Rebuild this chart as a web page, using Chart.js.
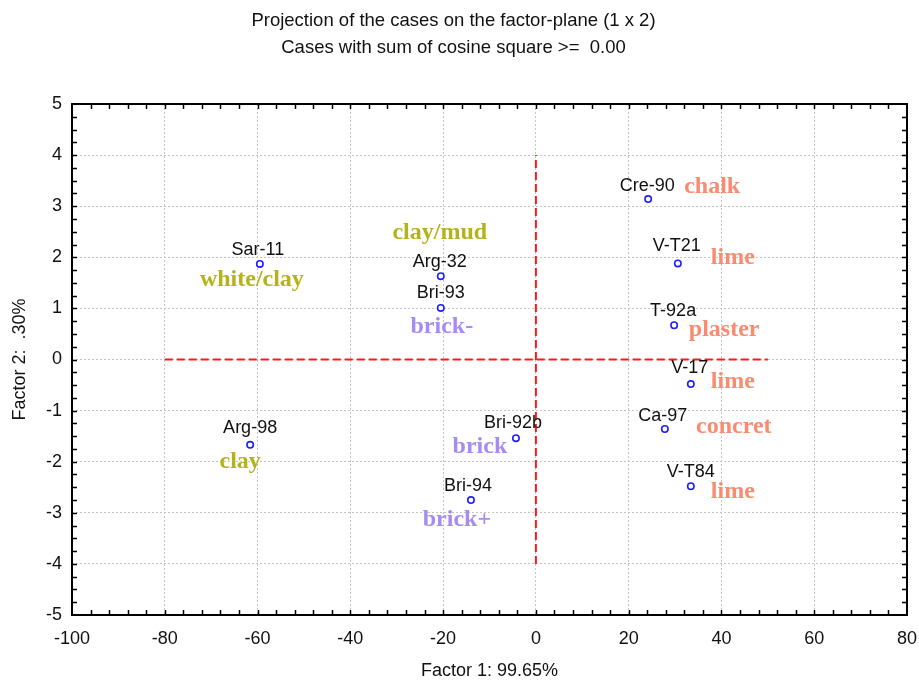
<!DOCTYPE html>
<html><head><meta charset="utf-8">
<script src="https://cdn.jsdelivr.net/npm/chart.js@4.4.1/dist/chart.umd.min.js"></script>
<style>html,body{margin:0;padding:0;background:#fff}</style>
</head><body>
<canvas id="c" width="919" height="682"></canvas>
<script>
// ---- data ----
const caseNames = ['Sar-11','Arg-32','Bri-93','Arg-98','Bri-92b','Bri-94','Cre-90','V-T21','T-92a','V-17','Ca-97','V-T84'];
const factor1 = [-59.5,-20.5,-20.5,-61.6,-4.3,-14.0,24.2,30.6,29.8,33.4,27.8,33.4];
const factor2 = [1.87,1.63,1.01,-1.67,-1.54,-2.75,3.14,1.88,0.67,-0.48,-1.36,-2.48];
const materials = ['white/clay','clay/mud','brick-','clay','brick','brick+','chalk','lime','plaster','lime','concret','lime'];
const materialGroup = ['clay','clay','brick','clay','brick','brick','lime','lime','lime','lime','lime','lime'];
const refLineX = [-80, 50];   // horizontal reference at Factor 2 = 0
const refLineY = [-4, 4];     // vertical reference at Factor 1 = 0
const xRange = [-100, 80];
const yRange = [-5, 5];
const titleLines = ['Projection of the cases on the factor-plane (1 x 2)', 'Cases with sum of cosine square >=  0.00'];
const xTitle = 'Factor 1: 99.65%';
const yTitle = 'Factor 2:  .30%';

// ---- layout / style (not data) ----
const groupColor = {clay:'#b5b21c', brick:'#a68cf2', lime:'#f88b70'};
const nameOffset = [[-2,-14],[-1,-14],[0,-15],[0,-17],[-3,-15],[-3,-14],[-1,-13],[-1,-17],[-1,-14],[-1,-16],[-2,-13],[0,-14]];
const matOffset = [[-8,16],[-1,-43],[1,19],[-10,17],[-36,9],[-14,20],[64,-12],[55,-6],[50,5],[42,-2],[69,-2],[42,6]];

const points = factor1.map((x,i)=>({x, y:factor2[i]}));

const framePlugin = {
  id:'frame',
  afterDatasetsDraw(chart){
    const {ctx, chartArea:a, scales:{x, y}} = chart;
    ctx.save();
    ctx.textAlign='center'; ctx.textBaseline='middle';
    const meta = chart.getDatasetMeta(2);
    meta.data.forEach((pt,i)=>{
      ctx.font = '18px "Liberation Sans", Arial, sans-serif';
      ctx.fillStyle = '#111';
      ctx.fillText(caseNames[i], pt.x + nameOffset[i][0], pt.y + nameOffset[i][1]);
      ctx.font = 'bold 24px "Liberation Serif", "Times New Roman", serif';
      ctx.fillStyle = groupColor[materialGroup[i]];
      ctx.fillText(materials[i], pt.x + matOffset[i][0], pt.y + matOffset[i][1]);
    });
    ctx.strokeStyle='#000'; ctx.lineWidth=2;
    ctx.strokeRect(a.left, a.top, a.right-a.left, a.bottom-a.top);
    ctx.lineWidth=1.5;
    ctx.beginPath();
    for(let v=xRange[0]+4; v<xRange[1]; v+=4){
      const px = Math.round(x.getPixelForValue(v))+0.5;
      ctx.moveTo(px,a.bottom); ctx.lineTo(px,a.bottom-5);
      ctx.moveTo(px,a.top); ctx.lineTo(px,a.top+5);
    }
    for(let k=1; k<40; k++){
      const v = yRange[0] + k*0.25;
      const py = Math.round(y.getPixelForValue(v))+0.5;
      ctx.moveTo(a.left,py); ctx.lineTo(a.left+5,py);
      ctx.moveTo(a.right,py); ctx.lineTo(a.right-5,py);
    }
    ctx.stroke();
    ctx.restore();
  }
};

new Chart(document.getElementById('c'), {
  type:'scatter',
  data:{datasets:[
    {data: refLineX.map(v=>({x:v, y:0})), showLine:true, pointRadius:0, borderColor:'#ff1a1a', borderWidth:2, borderDash:[8,4]},
    {data: refLineY.map(v=>({x:0, y:v})), showLine:true, pointRadius:0, borderColor:'#ff1a1a', borderWidth:2, borderDash:[8,4]},
    {data: points, pointRadius:3.2, pointBorderWidth:1.6, borderColor:'#1f1fff', backgroundColor:'#ffffff', pointHoverRadius:3.2}
  ]},
  options:{
    responsive:false, animation:false,
    layout:{padding:{left:0, right:12, top:0, bottom:0}},
    plugins:{
      legend:{display:false}, tooltip:{enabled:false},
      title:{display:true, text:titleLines, color:'#111',
        font:{family:'"Liberation Sans", Arial, sans-serif', size:18.5, weight:'normal', lineHeight:1.46},
        padding:{top:7, bottom:43}}
    },
    scales:{
      x:{type:'linear', min:xRange[0], max:xRange[1],
        afterFit(s){ s.height = 67; s.paddingLeft = 0; s.paddingRight = 0; },
        ticks:{stepSize:20, color:'#111', padding:13, font:{family:'"Liberation Sans", Arial, sans-serif', size:18}},
        grid:{color:'#c4c4c4', lineWidth:1, drawTicks:false},
        border:{display:false, dash:[2,2]},
        title:{display:true, text:xTitle, color:'#111', padding:{top:9,bottom:0}, font:{family:'"Liberation Sans", Arial, sans-serif', size:18}}
      },
      y:{type:'linear', min:yRange[0], max:yRange[1],
        afterFit(s){ s.width = 72; s.paddingTop = 0; s.paddingBottom = 0; },
        ticks:{stepSize:1, color:'#111', padding:10, font:{family:'"Liberation Sans", Arial, sans-serif', size:18}},
        grid:{color:'#c4c4c4', lineWidth:1, drawTicks:false},
        border:{display:false, dash:[2,2]},
        title:{display:true, text:yTitle, color:'#111', padding:{top:9,bottom:0}, font:{family:'"Liberation Sans", Arial, sans-serif', size:18}}
      }
    }
  },
  plugins:[framePlugin]
});
</script>
</body></html>
